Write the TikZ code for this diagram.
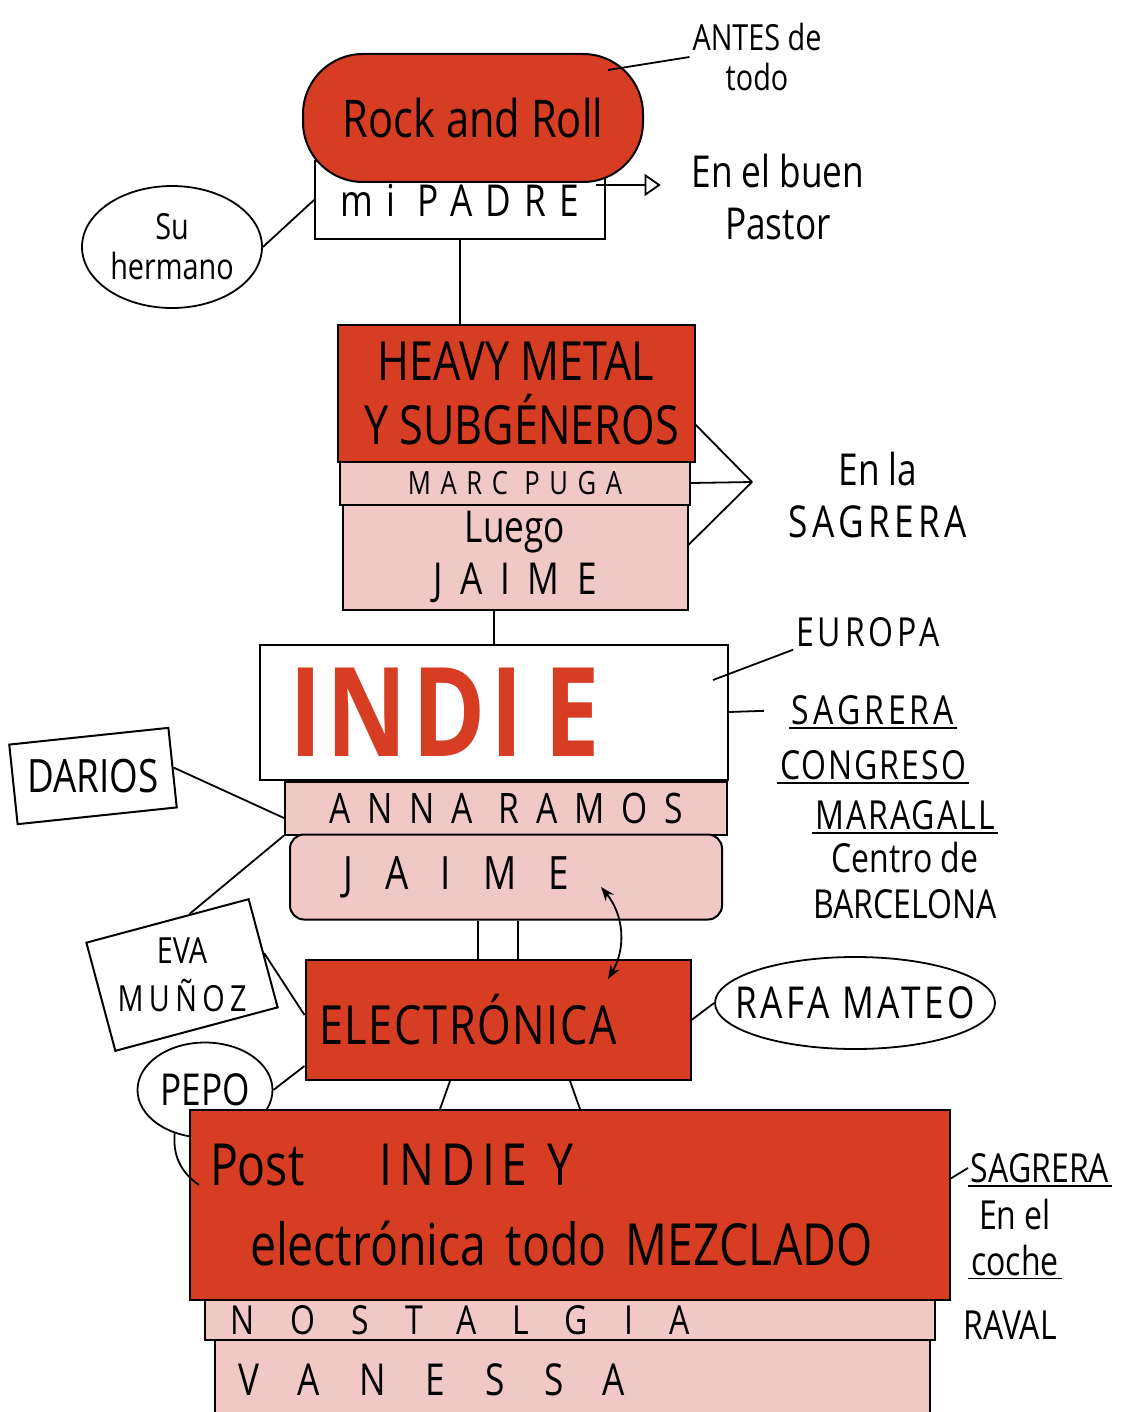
\documentclass[tikz,border=0pt]{standalone}
\usepackage{fontspec}
\setmainfont{Open Sans}[FakeStretch=0.8]
\usepackage{xcolor}
\usetikzlibrary{arrows.meta}
\usetikzlibrary{calc}
\usetikzlibrary{shapes.geometric}
\definecolor{rojo}{RGB}{214,61,35}
\definecolor{rosa}{RGB}{240,201,199}
\newcommand{\espaciado}[2]{{\addfontfeature{LetterSpace=#1}#2}}

\begin{document}
\begin{tikzpicture}[x=1pt,y=-1pt,line width=2pt,
    caja/.style={draw,line width=2pt,inner sep=0pt,align=center},
    capa/.style={caja,fill=rosa},
    bloque/.style={caja,fill=rojo},
    globo/.style={draw,ellipse,line width=1.8pt,inner sep=0pt,align=center},
    nota/.style={align=center,inner sep=2pt},
    enlace/.style={line width=1.8pt}]
        \newcommand{\tamgrande}{\fontsize{54}{64}\selectfont}
        \newcommand{\tammedio}{\fontsize{44}{52}\selectfont}
        \newcommand{\tamnota}{\fontsize{40}{46}\selectfont}
        \useasboundingbox (0,0) rectangle (1128,1412);
        % rock and roll
        \node[caja,fill=white,minimum width=290,minimum height=78,font=\tammedio] (padre) at (460,200) {\raisebox{-6pt}{\espaciado{30}{mi PADRE}}};
        \node[bloque,rounded corners=60,minimum width=340,minimum height=128,font=\fontsize{52}{58}\selectfont] (rock) at (473,118) {Rock and Roll};
        \node[nota,font=\fontsize{36}{40}\selectfont] (antes) at (757,57) {ANTES de\\todo};
        \node[nota,font=\tammedio] (pastor) at (778,197) {En el buen\\Pastor};
        \node[globo,minimum width=180,minimum height=122,font=\fontsize{36}{40}\selectfont] (hermano) at (172,247) {Su\\hermano};
        \draw[enlace] ($(rock.center)+(135,-48)$) -- (antes.west);
        \draw[enlace,-{Triangle[open,length=16pt,width=22pt]}] ($(padre.east)+(-10,-15)$) -- ($(pastor.west)+(-28,-12)$);
        \draw[enlace] (hermano.east) -- (padre.west);
        % heavy metal
        \node[bloque,minimum width=357,minimum height=137,font=\tamgrande] (heavy) at (516,393) {HEAVY METAL\\ \ Y SUBGÉNEROS};
        \node[capa,minimum width=350,minimum height=43,font=\fontsize{32}{36}\selectfont] (marc) at (515,483) {\espaciado{30}{MARC PUGA}};
        \node[capa,minimum width=345,minimum height=105,font=\tammedio] (luego) at (515,557) {Luego\\\espaciado{40}{JAIME}};
        \node[nota,font=\tammedio] (sagrera) at (878,495) {En la\\\espaciado{10}{SAGRERA}};
        \coordinate (abanico) at (752,482);
        \draw[enlace] (padre.south) -- (padre.south |- heavy.north);
        \draw[enlace] (heavy.-10) -- (abanico);
        \draw[enlace] (marc.east) -- (abanico);
        \draw[enlace] (luego.4) -- (abanico);
        % indie
        \node[caja,fill=white,minimum width=468,minimum height=135,text width=410,align=left,text=rojo,font=\fontsize{124}{124}\selectfont\bfseries] (indie) at (494,712) {\espaciado{4}{INDI\,E}};
        \node[capa,minimum width=442,minimum height=53,font=\fontsize{42}{48}\selectfont] (anna) at (506,808) {\espaciado{40}{ANNA RAMOS}};
        \node[capa,rounded corners=14,minimum width=432,minimum height=85,font=\fontsize{46}{52}\selectfont] (jaime) at (506,877) {\hspace*{-100pt}\espaciado{70}{JAIME}};
        \draw[enlace] (indie.north) -- (indie.north |- luego.south);
        \node[nota,font=\tamnota] (europa) at (868,632) {\espaciado{10}{EUROPA}};
        \node[nota,font=\tamnota] (lugarsag) at (873,710) {\espaciado{10}{SAGRERA}};
        \node[nota,font=\tamnota] (congreso) at (873,765) {\espaciado{5}{CONGRESO}};
        \node[nota,font=\tamnota] (maragall) at (905,815) {\espaciado{5}{MARAGALL}};
        \node[nota,font=\tamnota] (centro) at (905,880) {Centro de\\BARCELONA};
        \draw[enlace] ($(indie.east)+(-16,-32)$) -- (europa.south west);
        \draw[enlace,shorten >=25pt] (indie.east) -- (lugarsag.west);
        \draw[enlace] (lugarsag.south west) -- (lugarsag.south east);
        \draw[enlace] (congreso.south west) -- (congreso.south east);
        \draw[enlace] (maragall.south west) -- (maragall.south east);
        % amigos
        \node[caja,fill=white,rotate=6,minimum width=160,minimum height=80] (darios) at (93,776) {};
        \node[nota,font=\fontsize{46}{50}\selectfont] (dariostxt) at (darios.center) {DARIOS};
        \node[caja,fill=white,rotate=15,minimum width=168,minimum height=112] (eva) at (182,975) {};
        \node[nota,font=\fontsize{36}{48}\selectfont] (evatxt) at (eva.center) {EVA\\\espaciado{15}{MUÑOZ}};
        \draw[enlace] (darios.east) -- ($(anna.west)+(0,10)$);
        \draw[enlace] (eva.68) -- (anna.south west);
        % electronica
        \node[bloque,minimum width=385,minimum height=120,font=\fontsize{54}{60}\selectfont] (elec) at (498,1020) {\hspace*{-60pt}\espaciado{3}{ELECTRÓNICA}};
        \node[globo,inner xsep=-22pt,minimum width=280,minimum height=92,font=\fontsize{44}{50}\selectfont] (rafa) at (855,1003) {\espaciado{8}{RAFA MATEO}};
        \node[globo,minimum width=135,minimum height=95,font=\fontsize{44}{50}\selectfont] (pepo) at (205,1090) {PEPO};
        \draw[enlace] ($(jaime.south)+(-28,0)$) -- ($(elec.north)+(-20,0)$);
        \draw[enlace] ($(jaime.south)+(12,0)$) -- ($(elec.north)+(20,0)$);
        \draw[enlace,{Stealth[length=14pt]}-{Stealth[length=14pt]}] ($(jaime.center)+(95,10)$) to[bend left=35] ($(elec.north)+(110,20)$);
        \draw[enlace] (eva.east) -- ($(elec.west)+(0,-5)$);
        \draw[enlace] (elec.east) -- (rafa.west);
        \draw[enlace] (pepo.east) -- ($(elec.south west)+(0,-15)$);
        % post indie
        \node[bloque,minimum width=760,minimum height=190,text width=720,align=left,font=\fontsize{58}{80}\selectfont] (post) at (570,1205) {Post\hspace{75pt}\espaciado{12}{INDIE Y}\\\hspace*{40pt}electrónica todo MEZCLADO};
        \node[capa,minimum width=730,minimum height=40,font=\fontsize{40}{44}\selectfont] (nostalgia) at (570,1320) {\hspace*{-220pt}\espaciado{90}{NOSTALGIA}};
        \node[capa,minimum width=715,minimum height=80,font=\fontsize{44}{48}\selectfont] (vanessa) at (572,1380) {\hspace*{-280pt}\espaciado{90}{VANESSA}};
        \draw[enlace] ($(elec.south)+(-48,0)$) -- ($(post.north)+(-130,0)$);
        \draw[enlace] ($(elec.south)+(72,0)$) -- ($(post.north)+(10,0)$);
        \draw[enlace] (pepo.235) to[bend right=30] ($(post.west)+(10,-20)$);
        \node[nota,font=\tamnota] (sagcoche) at (1040,1168) {SAGRERA};
        \node[nota,font=\tamnota] (coche) at (1015,1237) {En el\\coche};
        \node[nota,font=\tamnota] (raval) at (1010,1325) {RAVAL};
        \draw[enlace] (post.4) -- (sagcoche.west);
        \draw[enlace] (sagcoche.south west) -- (sagcoche.south east);
        \draw[enlace] (coche.south west) -- (coche.south east);
    \end{tikzpicture}
\end{document}
